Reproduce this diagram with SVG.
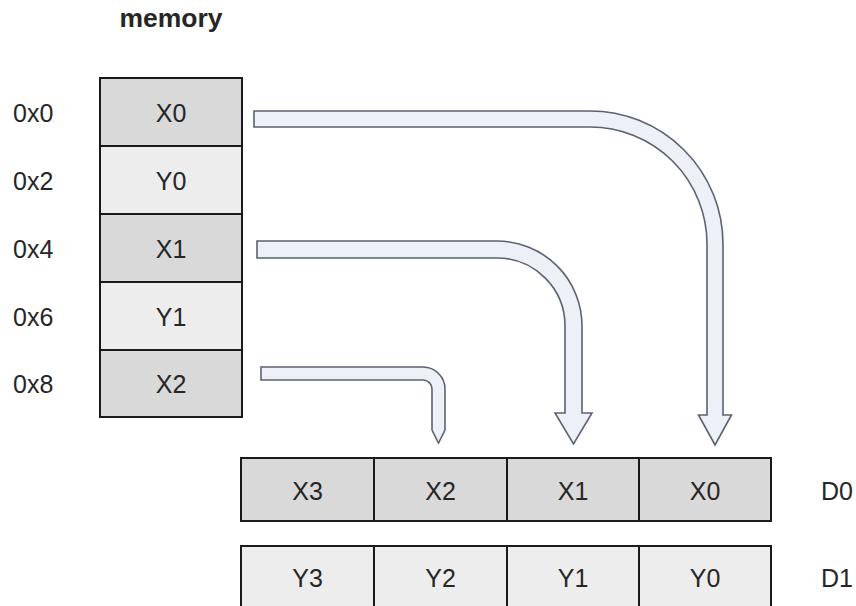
<svg xmlns="http://www.w3.org/2000/svg" width="856" height="606" viewBox="0 0 856 606">
<style>
text{font-family:"Liberation Sans",Arial,sans-serif;font-size:25px;fill:#262626}
.c{text-anchor:middle}
.t{font-weight:bold;font-size:26.5px}
.dk{fill:#D9D9D9;stroke:#1a1a1a;stroke-width:2}
.lt{fill:#EDEDED;stroke:#1a1a1a;stroke-width:2}
.ar{fill:#EDF0F6;stroke:#5B6371;stroke-width:1.6;stroke-linejoin:miter}
</style>
<rect width="856" height="606" fill="#fff"/>
<text id="title" class="t c" x="171" y="27">memory</text>
<g id="addr">
<text x="13" y="122">0x0</text>
<text x="13" y="190">0x2</text>
<text x="13" y="258">0x4</text>
<text x="13" y="326">0x6</text>
<text x="13" y="393">0x8</text>
</g>
<g id="mem-X0"><rect class="dk" x="100" y="78" width="142" height="68"/><text class="c" x="171" y="122">X0</text></g>
<g id="mem-Y0"><rect class="lt" x="100" y="146" width="142" height="68"/><text class="c" x="171" y="190">Y0</text></g>
<g id="mem-X1"><rect class="dk" x="100" y="214" width="142" height="68"/><text class="c" x="171" y="258">X1</text></g>
<g id="mem-Y1"><rect class="lt" x="100" y="282" width="142" height="68"/><text class="c" x="171" y="326">Y1</text></g>
<g id="mem-X2"><rect class="dk" x="100" y="350" width="142" height="67"/><text class="c" x="171" y="393">X2</text></g>
<g id="D0">
<rect class="dk" x="241" y="458" width="133" height="63"/>
<rect class="dk" x="374" y="458" width="133" height="63"/>
<rect class="dk" x="507" y="458" width="132" height="63"/>
<rect class="dk" x="639" y="458" width="132" height="63"/>
<text class="c" x="307.5" y="500">X3</text>
<text class="c" x="440.5" y="500">X2</text>
<text class="c" x="573" y="500">X1</text>
<text class="c" x="705" y="500">X0</text>
<text x="821" y="500">D0</text>
</g>
<g id="D1">
<rect class="lt" x="241" y="546" width="133" height="63"/>
<rect class="lt" x="374" y="546" width="133" height="63"/>
<rect class="lt" x="507" y="546" width="132" height="63"/>
<rect class="lt" x="639" y="546" width="132" height="63"/>
<text class="c" x="307.5" y="587">Y3</text>
<text class="c" x="440.5" y="587">Y2</text>
<text class="c" x="573" y="587">Y1</text>
<text class="c" x="705" y="587">Y0</text>
<text x="821" y="587">D1</text>
</g>
<g id="connectors">
<path class="ar" d="M254,111 H590 A133,133 0 0 1 723,244 V415 H731.5 L715,445 L698.5,415 H707 V244 A117,117 0 0 0 590,127 H254 Z"/>
<path class="ar" d="M257,241 H497 A85,85 0 0 1 582,326 V413 H592 L573.5,444 L555,413 H565 V326 A68,68 0 0 0 497,258 H257 Z"/>
<path class="ar" d="M261,367 H423 A22,22 0 0 1 445,389 V430 L438.5,443 L432,430 V389 A9,9 0 0 0 423,380 H261 Z"/>
</g>
</svg>
